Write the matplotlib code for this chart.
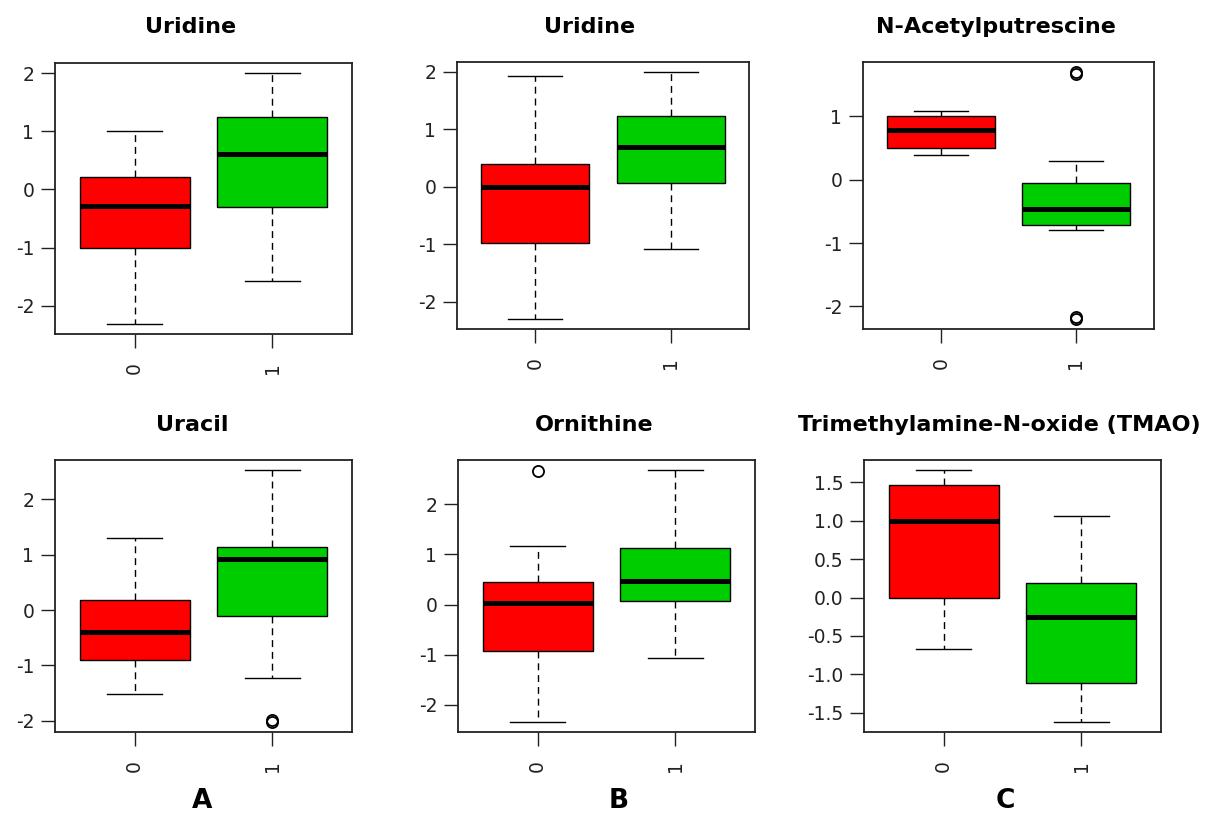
import matplotlib
matplotlib.use("Agg")
import matplotlib.pyplot as plt

plt.rcParams['font.family'] = ['DejaVu Sans']
plt.rcParams['axes.unicode_minus'] = False

# ---------------- data ----------------
titles = ["Uridine", "Uridine", "N-Acetylputrescine",
          "Uracil", "Ornithine", "Trimethylamine-N-oxide (TMAO)"]
groups = ["0", "1"]
panel_letters = ["A", "B", "C"]

# group "0"
whislo_0 = [-2.31, -2.30, 0.39, -1.52, -2.34, -0.67]
q1_0     = [-1.00, -0.98, 0.50, -0.90, -0.935, 0.00]
med_0    = [-0.28, 0.00, 0.78, -0.39, 0.03, 1.00]
q3_0     = [0.21, 0.39, 1.00, 0.19, 0.45, 1.46]
whishi_0 = [1.00, 1.93, 1.08, 1.31, 1.16, 1.66]
fliers_0 = [[], [], [], [], [2.66], []]

# group "1"
whislo_1 = [-1.58, -1.085, -0.80, -1.225, -1.06, -1.62]
q1_1     = [-0.30, 0.064, -0.72, -0.10, 0.08, -1.115]
med_1    = [0.61, 0.70, -0.47, 0.93, 0.46, -0.26]
q3_1     = [1.24, 1.24, -0.05, 1.145, 1.13, 0.19]
whishi_1 = [2.00, 2.00, 0.30, 2.53, 2.68, 1.06]
fliers_1 = [[], [], [1.67, 1.70, -2.17, -2.20], [-1.99, -2.02], [], []]

yticks = [[-2, -1, 0, 1, 2], [-2, -1, 0, 1, 2], [-2, -1, 0, 1],
          [-2, -1, 0, 1, 2], [-2, -1, 0, 1, 2],
          [-1.5, -1.0, -0.5, 0.0, 0.5, 1.0, 1.5]]
ytick_labels = [["-2", "-1", "0", "1", "2"], ["-2", "-1", "0", "1", "2"],
                ["-2", "-1", "0", "1"], ["-2", "-1", "0", "1", "2"],
                ["-2", "-1", "0", "1", "2"],
                ["-1.5", "-1.0", "-0.5", "0.0", "0.5", "1.0", "1.5"]]

box_colors = ["#FF0000", "#00CD00"]

# ---------------- layout (pixels) ----------------
W, H = 1212, 815
axes_px = [(55, 63, 352, 334), (457, 62, 749, 329), (863, 62, 1154, 329),
           (55, 460, 352, 732), (458, 460, 755, 732), (864, 460, 1161, 732)]
title_px = [(191, 33), (590, 33), (996, 33), (192, 431), (594, 431), (999, 431)]
letter_px = [(202, 808), (619, 808), (1005, 808)]

fig = plt.figure(figsize=(W / 100, H / 100), dpi=100)

for i in range(6):
    x0, y0, x1, y1 = axes_px[i]
    ax = fig.add_axes([x0 / W, 1 - y1 / H, (x1 - x0) / W, (y1 - y0) / H])
    stats = [
        dict(whislo=whislo_0[i], q1=q1_0[i], med=med_0[i], q3=q3_0[i],
             whishi=whishi_0[i], fliers=fliers_0[i], label=groups[0]),
        dict(whislo=whislo_1[i], q1=q1_1[i], med=med_1[i], q3=q3_1[i],
             whishi=whishi_1[i], fliers=fliers_1[i], label=groups[1]),
    ]
    bp = ax.bxp(stats, positions=[1, 2], widths=0.8, patch_artist=True,
                boxprops=dict(linewidth=1.0, edgecolor="black"),
                medianprops=dict(color="black", linewidth=3.6, solid_capstyle="butt"),
                whiskerprops=dict(color="black", linewidth=1.0, linestyle=(0, (5, 3.5))),
                capprops=dict(color="black", linewidth=1.0),
                flierprops=dict(marker="o", markerfacecolor="none",
                                markeredgecolor="black", markersize=8,
                                markeredgewidth=1.3))
    for patch, c in zip(bp["boxes"], box_colors):
        patch.set_facecolor(c)

    # R-style axis limits: 4% extension of data range
    allv = [whislo_0[i], whishi_0[i], whislo_1[i], whishi_1[i]] + fliers_0[i] + fliers_1[i]
    lo, hi = min(allv), max(allv)
    ext = 0.04 * (hi - lo)
    ax.set_ylim(lo - ext, hi + ext)
    ax.set_xlim(0.42, 2.58)

    ax.set_yticks(yticks[i])
    ax.set_yticklabels(ytick_labels[i])
    ax.set_xticks([1, 2])
    ax.set_xticklabels(groups, rotation=90)
    ax.tick_params(axis="y", length=10, width=1.0, pad=5, labelsize=13.5,
                   colors="#222222")
    ax.tick_params(axis="x", length=10, width=1.0, pad=10, labelsize=13.5,
                   colors="#222222")
    for s in ax.spines.values():
        s.set_linewidth(1.3)
        s.set_color("#222222")

    tx, ty = title_px[i]
    fig.text(tx / W, 1 - ty / H, titles[i], ha="center", va="baseline",
             fontsize=16, fontweight="bold", color="black")

for (lx, ly), letter in zip(letter_px, panel_letters):
    fig.text(lx / W, 1 - ly / H, letter, ha="center", va="baseline",
             fontsize=19, fontweight="bold", color="black")

fig.savefig("out.png", dpi=100)
